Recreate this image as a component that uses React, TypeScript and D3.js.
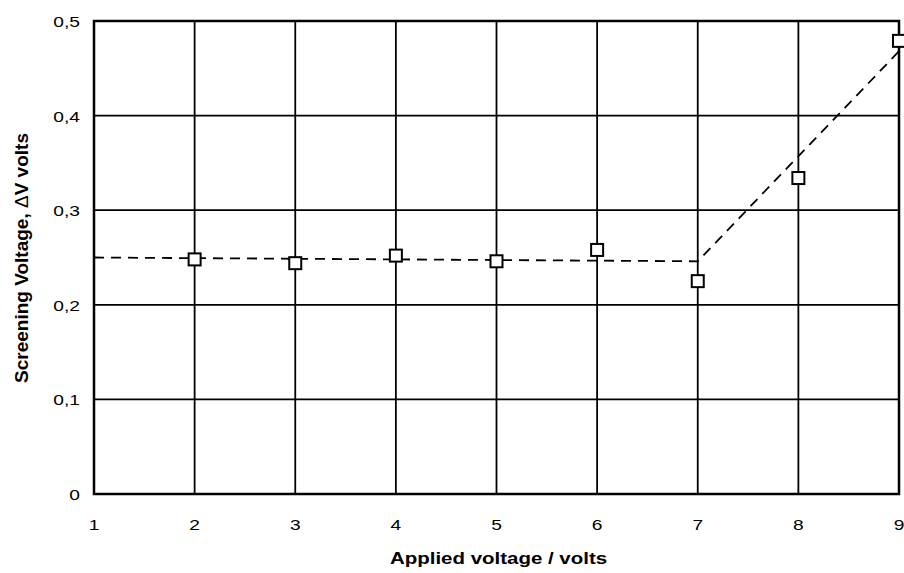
import React from "react";
import * as d3 from "d3";

// Measured screening voltage against applied voltage
const appliedVoltage = [2, 3, 4, 5, 6, 7, 8, 9];
const screeningVoltage = [0.248, 0.244, 0.252, 0.246, 0.258, 0.225, 0.334, 0.479];

// Trend line segments (dashed): flat region, then rising region
const trendX = [1, 7, 9];
const trendY = [0.25, 0.246, 0.468];

const xTicks = [1, 2, 3, 4, 5, 6, 7, 8, 9];
const yTicks = [0, 0.1, 0.2, 0.3, 0.4, 0.5];

const W = 904;
const H = 573;
const margin = { left: 94, right: 4, top: 21, bottom: 79 };
// text is drawn slightly widened horizontally
const STRETCH = 1.28;

export default function App() {
  const x = d3
    .scaleLinear()
    .domain([1, 9])
    .range([margin.left, W - margin.right - 1]);
  const y = d3
    .scaleLinear()
    .domain([0, 0.5])
    .range([H - margin.bottom, margin.top]);

  const fmt = (v: number) => (v === 0 ? "0" : d3.format(".1f")(v).replace(".", ","));

  const trend = d3
    .line<number>()
    .x((_, i) => x(trendX[i]))
    .y((d) => y(d))(trendY);

  const font = "Arial, 'Liberation Sans', Helvetica, sans-serif";
  const x0 = x(1);
  const x1 = x(9);
  const y0 = y(0);
  const y1 = y(0.5);

  const at = (px: number, py: number) => `translate(${px},${py}) scale(${STRETCH},1)`;

  return (
    <svg
      width={W}
      height={H}
      style={{ position: "absolute", left: 0, top: 0, background: "#fff" }}
      fontFamily={font}
    >
      {/* grid */}
      {xTicks.map((t) => (
        <line key={"gx" + t} x1={x(t)} x2={x(t)} y1={y1} y2={y0} stroke="#000" strokeWidth={1.8} />
      ))}
      {yTicks.map((t) => (
        <line key={"gy" + t} x1={x0} x2={x1} y1={y(t)} y2={y(t)} stroke="#000" strokeWidth={1.8} />
      ))}
      {/* frame */}
      <rect x={x0} y={y1} width={x1 - x0} height={y0 - y1} fill="none" stroke="#000" strokeWidth={2.5} />

      {/* trend line */}
      <path d={trend ?? ""} fill="none" stroke="#000" strokeWidth={1.8} strokeDasharray="10,7" />

      {/* markers */}
      {appliedVoltage.map((v, i) => (
        <rect
          key={"m" + i}
          x={x(v) - 6}
          y={y(screeningVoltage[i]) - 6}
          width={12}
          height={12}
          fill="#fff"
          stroke="#000"
          strokeWidth={2}
        />
      ))}

      {/* tick labels */}
      {xTicks.map((t) => (
        <text key={"tx" + t} transform={at(x(t), y0 + 36)} textAnchor="middle" fontSize={15} fill="#000">
          {t}
        </text>
      ))}
      {yTicks.map((t) => (
        <text key={"ty" + t} transform={at(x0 - 14, y(t) + 6)} textAnchor="end" fontSize={15} fill="#000">
          {fmt(t)}
        </text>
      ))}

      {/* axis titles */}
      <text transform={at((x0 + x1) / 2 + 2, 564)} textAnchor="middle" fontSize={16} fontWeight="bold" fill="#000">
        Applied voltage / volts
      </text>
      <text
        transform={`translate(28, 258) rotate(-90)`}
        textAnchor="middle"
        fontSize={19}
        fontWeight="bold"
        fill="#000"
      >
        Screening Voltage, <tspan fontWeight="normal">Δ</tspan>V volts
      </text>
    </svg>
  );
}
